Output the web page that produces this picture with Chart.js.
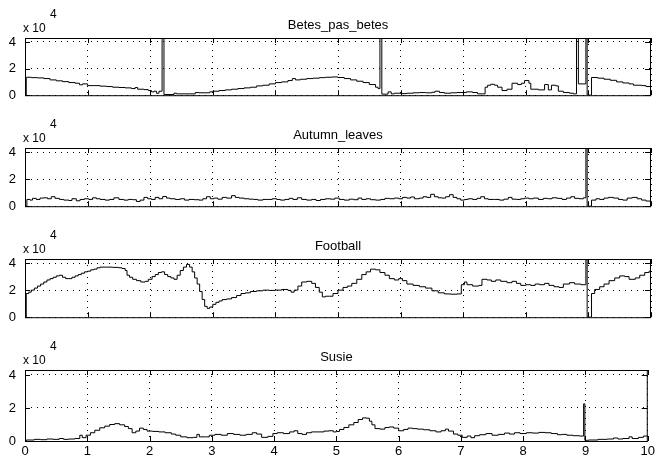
<!DOCTYPE html>
<html>
<head>
<meta charset="utf-8">
<script src="https://cdn.jsdelivr.net/npm/chart.js@4.4.1/dist/chart.umd.min.js"></script>
<style>
  html, body { margin: 0; padding: 0; background: #fff; }
  #fig { position: relative; width: 658px; height: 464px; overflow: hidden; }
  #fig canvas { position: absolute; left: 0; }
</style>
</head>
<body>
<div id="fig"></div>
<script>
// ---------- data (values in units of 10^4) ----------
const titles = ["Betes_pas_betes", "Autumn_leaves", "Football", "Susie"];
const xTicks = [0, 1, 2, 3, 4, 5, 6, 7, 8, 9, 10];
const yTicks = [0, 2, 4];

const betesPts = [
  [0, 0], [0.02, 1.35], [0.1, 1.32], [0.2, 1.3], [0.3, 1.25], [0.4, 1.15], [0.5, 1.08], [0.6, 1.02],
  [0.7, 0.95], [0.8, 0.9], [0.87, 0.78], [0.92, 0.85], [1.0, 0.72], [1.1, 0.72], [1.2, 0.68], [1.3, 0.65],
  [1.4, 0.6], [1.5, 0.58], [1.6, 0.55], [1.7, 0.5], [1.76, 0.58], [1.8, 0.45], [1.9, 0.42], [1.97, 0.35],
  [2.02, 0.25], [2.06, 0.3], [2.1, 0.15], [2.14, 0.3], [2.19, 4.4], [2.22, 0.05], [2.38, 0.15], [2.42, 0.1],
  [2.72, 0.2], [2.78, 0.18], [2.95, 0.25], [3.0, 0.3], [3.1, 0.35], [3.2, 0.4], [3.3, 0.45], [3.4, 0.5],
  [3.5, 0.55], [3.6, 0.6], [3.7, 0.7], [3.8, 0.75], [3.9, 0.85], [4.0, 0.95], [4.1, 1.0], [4.2, 1.1],
  [4.27, 1.25], [4.32, 1.15], [4.4, 1.2], [4.5, 1.25], [4.6, 1.28], [4.7, 1.32], [4.8, 1.35], [4.9, 1.37],
  [5.0, 1.33], [5.1, 1.25], [5.2, 1.15], [5.3, 1.05], [5.4, 0.95], [5.5, 0.8], [5.6, 0.6], [5.64, 0.5],
  [5.67, 4.4], [5.7, 0.08], [5.8, 0.25], [5.85, 0.1], [5.9, 0.15], [6.0, 0.12], [6.1, 0.15], [6.2, 0.18],
  [6.3, 0.2], [6.4, 0.18], [6.5, 0.22], [6.55, 0.3], [6.62, 0.2], [6.7, 0.15], [6.8, 0.18], [6.9, 0.2],
  [7.0, 0.2], [7.05, 0.25], [7.15, 0.2], [7.23, 0.1], [7.35, 0.6], [7.39, 0.75], [7.44, 0.82], [7.5, 0.75],
  [7.55, 0.6], [7.62, 0.35], [7.7, 0.45], [7.78, 0.9], [7.87, 0.8], [7.93, 0.9], [7.98, 1.1], [8.05, 0.9],
  [8.08, 0.45], [8.2, 0.4], [8.3, 0.8], [8.36, 0.4], [8.41, 0.75], [8.48, 0.7], [8.52, 0.3], [8.6, 0.2],
  [8.7, 0.15], [8.76, 0.1], [8.81, 4.4], [8.84, 0.85], [8.96, 4.4], [8.98, 0], [9.05, 1.33], [9.15, 1.28],
  [9.25, 1.2], [9.35, 1.12], [9.45, 1.0], [9.55, 0.92], [9.65, 0.85], [9.72, 0.75], [9.85, 0.72], [9.92, 0.65],
  [10, 0.6]
];

const autumnPts = [
  [0, 0], [0.03, 0.5], [0.08, 0.45], [0.12, 0.58], [0.18, 0.5], [0.24, 0.6], [0.3, 0.62], [0.36, 0.55],
  [0.42, 0.7], [0.48, 0.58], [0.55, 0.5], [0.62, 0.45], [0.7, 0.42], [0.75, 0.55], [0.82, 0.4], [0.88, 0.5],
  [0.95, 0.55], [1.02, 0.5], [1.08, 0.62], [1.14, 0.55], [1.2, 0.5], [1.28, 0.45], [1.35, 0.5], [1.42, 0.62],
  [1.5, 0.5], [1.58, 0.45], [1.65, 0.5], [1.72, 0.48], [1.78, 0.35], [1.84, 0.45], [1.9, 0.65], [1.96, 0.55],
  [2.02, 0.5], [2.08, 0.65], [2.14, 0.55], [2.2, 0.72], [2.26, 0.6], [2.32, 0.55], [2.4, 0.5], [2.48, 0.55],
  [2.55, 0.45], [2.62, 0.5], [2.7, 0.48], [2.78, 0.45], [2.84, 0.55], [2.9, 0.7], [2.96, 0.55], [3.02, 0.6],
  [3.08, 0.52], [3.15, 0.65], [3.22, 0.6], [3.3, 0.78], [3.36, 0.65], [3.42, 0.6], [3.5, 0.55], [3.58, 0.52],
  [3.65, 0.5], [3.72, 0.45], [3.8, 0.5], [3.88, 0.5], [3.95, 0.55], [4.02, 0.5], [4.08, 0.45], [4.15, 0.5],
  [4.22, 0.58], [4.28, 0.5], [4.35, 0.62], [4.42, 0.5], [4.5, 0.45], [4.58, 0.5], [4.65, 0.42], [4.72, 0.5],
  [4.8, 0.55], [4.88, 0.52], [4.95, 0.6], [5.02, 0.5], [5.1, 0.45], [5.18, 0.52], [5.25, 0.48], [5.32, 0.6],
  [5.38, 0.5], [5.45, 0.55], [5.52, 0.48], [5.6, 0.45], [5.68, 0.5], [5.75, 0.58], [5.82, 0.55], [5.9, 0.6],
  [5.97, 0.55], [6.03, 0.65], [6.1, 0.6], [6.16, 0.68], [6.22, 0.55], [6.3, 0.6], [6.36, 0.7], [6.42, 0.65],
  [6.48, 0.88], [6.54, 0.7], [6.6, 0.62], [6.66, 0.6], [6.72, 0.7], [6.78, 0.85], [6.84, 0.65], [6.9, 0.55],
  [6.96, 0.45], [7.02, 0.5], [7.08, 0.55], [7.15, 0.5], [7.22, 0.58], [7.28, 0.7], [7.34, 0.55], [7.4, 0.5],
  [7.5, 0.5], [7.58, 0.45], [7.65, 0.52], [7.72, 0.65], [7.78, 0.52], [7.85, 0.5], [7.92, 0.55], [7.98, 0.6],
  [8.05, 0.55], [8.12, 0.6], [8.2, 0.5], [8.28, 0.58], [8.35, 0.55], [8.42, 0.62], [8.5, 0.58], [8.58, 0.5],
  [8.65, 0.6], [8.72, 0.7], [8.78, 0.58], [8.85, 0.55], [8.92, 0.62], [8.96, 4.4], [8.98, 0], [9.05, 0.45],
  [9.12, 0.55], [9.18, 0.5], [9.25, 0.6], [9.32, 0.65], [9.4, 0.6], [9.48, 0.5], [9.55, 0.45], [9.62, 0.6],
  [9.7, 0.65], [9.78, 0.55], [9.85, 0.45], [9.92, 0.38], [10, 0.4]
];

const footballPts = [
  [0, 0], [0.02, 1.75], [0.06, 1.85], [0.1, 2.0], [0.15, 2.15], [0.2, 2.3], [0.25, 2.45], [0.3, 2.6],
  [0.35, 2.75], [0.4, 2.85], [0.45, 2.95], [0.5, 3.05], [0.55, 3.1], [0.6, 2.95], [0.65, 2.85], [0.7, 2.85],
  [0.75, 2.95], [0.8, 3.05], [0.85, 3.15], [0.9, 3.25], [0.95, 3.35], [1.0, 3.4], [1.05, 3.5], [1.1, 3.55],
  [1.15, 3.65], [1.2, 3.7], [1.3, 3.7], [1.4, 3.68], [1.5, 3.65], [1.55, 3.6], [1.6, 3.45], [1.63, 3.1],
  [1.67, 2.95], [1.72, 2.8], [1.78, 2.7], [1.85, 2.6], [1.92, 2.65], [1.97, 2.8], [2.03, 3.0], [2.08, 3.15],
  [2.13, 3.3], [2.18, 3.35], [2.23, 3.15], [2.28, 3.0], [2.33, 2.9], [2.38, 2.8], [2.43, 3.1], [2.48, 3.45],
  [2.53, 3.7], [2.58, 3.9], [2.63, 3.7], [2.67, 3.35], [2.71, 2.9], [2.75, 2.45], [2.79, 1.9], [2.83, 1.3],
  [2.87, 0.8], [2.91, 0.65], [2.95, 0.75], [3.0, 0.95], [3.05, 1.1], [3.1, 1.2], [3.15, 1.3], [3.22, 1.35],
  [3.3, 1.45], [3.38, 1.6], [3.45, 1.75], [3.52, 1.8], [3.6, 1.9], [3.7, 1.95], [3.8, 2.0], [3.9, 1.98],
  [4.0, 2.0], [4.1, 2.05], [4.2, 1.98], [4.25, 1.85], [4.3, 2.0], [4.36, 2.3], [4.42, 2.6], [4.5, 2.65],
  [4.58, 2.5], [4.64, 2.2], [4.7, 1.85], [4.75, 1.5], [4.8, 1.55], [4.86, 1.55], [4.92, 1.75], [5.0, 2.0],
  [5.08, 2.2], [5.15, 2.3], [5.22, 2.5], [5.3, 2.8], [5.38, 3.15], [5.45, 3.35], [5.52, 3.55], [5.6, 3.5],
  [5.67, 3.3], [5.75, 3.1], [5.82, 2.85], [5.9, 2.75], [5.97, 2.85], [6.03, 2.7], [6.1, 2.45], [6.2, 2.35],
  [6.3, 2.25], [6.4, 2.15], [6.5, 1.95], [6.6, 1.8], [6.7, 1.72], [6.8, 1.7], [6.9, 1.72], [6.97, 2.4],
  [7.02, 2.6], [7.06, 2.4], [7.15, 2.3], [7.25, 2.35], [7.3, 2.8], [7.38, 2.75], [7.45, 2.65], [7.52, 2.75],
  [7.6, 2.65], [7.7, 2.55], [7.78, 2.65], [7.85, 2.5], [7.92, 2.35], [8.0, 2.4], [8.08, 2.35], [8.15, 2.45],
  [8.22, 2.4], [8.3, 2.5], [8.37, 2.35], [8.45, 2.25], [8.53, 2.2], [8.6, 2.45], [8.7, 2.55], [8.78, 2.45],
  [8.88, 2.4], [8.96, 4.4], [8.98, 0], [9.05, 1.75], [9.1, 2.05], [9.18, 2.25], [9.25, 2.45], [9.33, 2.7],
  [9.42, 2.9], [9.5, 3.05], [9.58, 3.0], [9.65, 2.8], [9.75, 2.9], [9.82, 3.1], [9.9, 3.3], [9.97, 3.4],
  [10, 3.4]
];

const susiePts = [
  [0, 0], [0.02, 0.06], [0.15, 0.1], [0.25, 0.08], [0.35, 0.12], [0.45, 0.1], [0.55, 0.15], [0.62, 0.1],
  [0.7, 0.12], [0.8, 0.15], [0.88, 0.35], [0.92, 0.2], [0.98, 0.35], [1.05, 0.5], [1.12, 0.65], [1.2, 0.8],
  [1.28, 0.9], [1.36, 1.0], [1.44, 1.05], [1.52, 0.98], [1.6, 0.88], [1.66, 0.75], [1.72, 0.5], [1.78, 0.6],
  [1.84, 0.78], [1.9, 0.7], [1.96, 0.6], [2.05, 0.58], [2.15, 0.55], [2.25, 0.5], [2.35, 0.42], [2.42, 0.35],
  [2.5, 0.25], [2.6, 0.2], [2.7, 0.22], [2.76, 0.4], [2.8, 0.25], [2.9, 0.25], [2.96, 0.35], [3.05, 0.4],
  [3.15, 0.35], [3.25, 0.45], [3.35, 0.4], [3.45, 0.35], [3.55, 0.4], [3.65, 0.5], [3.72, 0.42], [3.8, 0.22],
  [3.9, 0.28], [3.98, 0.45], [4.05, 0.5], [4.15, 0.45], [4.25, 0.55], [4.32, 0.62], [4.38, 0.45], [4.45, 0.4],
  [4.52, 0.5], [4.6, 0.55], [4.7, 0.55], [4.8, 0.6], [4.88, 0.62], [4.95, 0.55], [5.0, 0.58], [5.05, 0.7],
  [5.12, 0.82], [5.2, 0.98], [5.28, 1.12], [5.35, 1.3], [5.42, 1.4], [5.48, 1.38], [5.53, 1.2], [5.57, 0.98],
  [5.62, 0.75], [5.7, 0.72], [5.78, 0.82], [5.85, 0.85], [5.92, 0.78], [6.0, 0.62], [6.08, 0.7], [6.15, 0.78],
  [6.22, 0.75], [6.3, 0.72], [6.4, 0.68], [6.5, 0.62], [6.6, 0.55], [6.68, 0.62], [6.75, 0.72], [6.8, 0.6],
  [6.88, 0.42], [6.95, 0.35], [7.02, 0.22], [7.1, 0.3], [7.16, 0.2], [7.22, 0.32], [7.3, 0.38], [7.4, 0.45],
  [7.5, 0.35], [7.6, 0.4], [7.7, 0.48], [7.78, 0.42], [7.86, 0.5], [7.95, 0.45], [8.05, 0.5], [8.15, 0.48],
  [8.25, 0.52], [8.35, 0.5], [8.45, 0.45], [8.55, 0.38], [8.62, 0.4], [8.7, 0.35], [8.8, 0.32], [8.9, 0.3],
  [8.97, 2.25], [8.99, 0.04], [9.05, 0.06], [9.2, 0.1], [9.35, 0.12], [9.45, 0.18], [9.52, 0.12], [9.6, 0.15],
  [9.7, 0.25], [9.75, 0.15], [9.85, 0.22], [9.93, 0.3], [10, 0.3]
];

const series = [betesPts, autumnPts, footballPts, susiePts];

// ---------- layout ----------
const areaTop = [38, 148, 259, 370];
const areaBottom = [110, 221, 332, 441];
const PAD_TOP = 38;
const FONT = '"Liberation Sans", Arial, sans-serif';

// box, inward ticks, title, exponent
const framePlugin = {
    id: "frame",
    afterDraw(chart, args, opts) {
        const { ctx, chartArea: a, scales } = chart;
        const x = scales.x, y = scales.y;
        ctx.save();
        ctx.strokeStyle = "#000";
        ctx.lineWidth = 1;
        ctx.strokeRect(a.left + 0.5, a.top + 0.5, a.width - 1, a.height);

        ctx.beginPath();
        x.ticks.forEach(t => {
            const px = Math.round(x.getPixelForValue(t.value)) + 0.5;
            ctx.moveTo(px, a.bottom); ctx.lineTo(px, a.bottom - 5);
            ctx.moveTo(px, a.top); ctx.lineTo(px, a.top + 5);
        });
        y.ticks.forEach(t => {
            const py = Math.round(y.getPixelForValue(t.value)) + 0.5;
            ctx.moveTo(a.left, py); ctx.lineTo(a.left + 5, py);
            ctx.moveTo(a.right, py); ctx.lineTo(a.right - 6, py);
        });
        ctx.stroke();

        ctx.fillStyle = "#000";
        ctx.font = "13px " + FONT;
        ctx.textAlign = "center";
        ctx.textBaseline = "alphabetic";
        ctx.fillText(opts.title, (a.left + a.right) / 2, a.top - 9);

        ctx.textAlign = "left";
        ctx.font = "12px " + FONT;
        ctx.fillText("x 10", 23, a.top - 6);
        ctx.fillText("4", 50, a.top - 20);
        ctx.restore();
    }
};

const fig = document.getElementById("fig");

series.forEach((pts, i) => {
    const last = i === series.length - 1;
    const xAxisH = last ? 23 : 2;
    const canvas = document.createElement("canvas");
    canvas.width = 658;
    canvas.height = (areaBottom[i] - areaTop[i]) + PAD_TOP + xAxisH;
    canvas.style.top = (areaTop[i] - PAD_TOP) + "px";
    fig.appendChild(canvas);

    new Chart(canvas, {
        type: "line",
        data: {
            datasets: [{
                data: pts.map(([x, y]) => ({ x, y })),
                borderColor: "#000",
                borderWidth: 1,
                pointRadius: 0,
                stepped: true,
                fill: false
            }]
        },
        plugins: [framePlugin],
        options: {
            responsive: false,
            animation: false,
            devicePixelRatio: 1,
            events: [],
            layout: { padding: { top: PAD_TOP, right: 7, bottom: 0, left: 0 } },
            plugins: {
                legend: { display: false },
                tooltip: { enabled: false },
                frame: { title: titles[i] }
            },
            scales: {
                x: {
                    type: "linear",
                    min: 0, max: 10,
                    afterBuildTicks: s => { s.ticks = xTicks.map(v => ({ value: v })); },
                    afterFit: s => { s.height = xAxisH; },
                    grid: { color: "#000", lineWidth: 1, drawTicks: false },
                    border: { display: false, dash: [1, 5] },
                    ticks: {
                        display: last,
                        color: "#000",
                        padding: 3,
                        maxRotation: 0,
                        font: { family: FONT, size: 13 }
                    }
                },
                y: {
                    type: "linear",
                    min: 0, max: 4.3,
                    afterBuildTicks: s => { s.ticks = yTicks.map(v => ({ value: v })); },
                    afterFit: s => { s.width = 25; },
                    grid: { color: "#000", lineWidth: 1, drawTicks: false },
                    border: { display: false, dash: [1, 5] },
                    ticks: {
                        color: "#000",
                        padding: 9,
                        font: { family: FONT, size: 13 }
                    }
                }
            }
        }
    });
});
</script>
</body>
</html>
